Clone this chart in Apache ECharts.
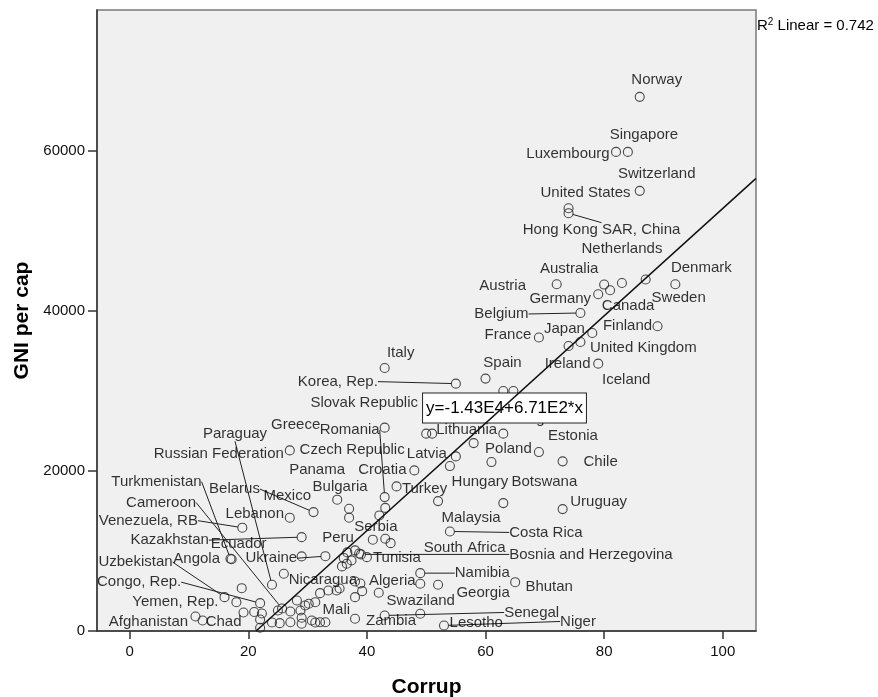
<!DOCTYPE html>
<html>
<head>
<meta charset="utf-8">
<script src="https://cdn.jsdelivr.net/npm/echarts@6.0.0/dist/echarts.min.js"></script>
<style>
  html, body { margin: 0; padding: 0; background: #ffffff; }
  #chart { width: 878px; height: 697px; }
</style>
</head>
<body>
<div id="chart"></div>
<script>
// Corruption score vs. GNI per capita, labelled countries
const countries = [
  'Norway', 'Singapore', 'Luxembourg', 'Switzerland', 'United States', 'Hong Kong SAR, China',
  'Netherlands', 'Australia', 'Denmark', 'Austria', 'Germany', 'Canada', 'Sweden', 'Belgium',
  'France', 'Japan', 'Finland', 'United Kingdom', 'Ireland', 'Iceland', 'Spain', 'Italy',
  'Korea, Rep.', 'Portugal', 'Slovak Republic', 'Czech Republic', 'Greece', 'Lithuania',
  'Estonia', 'Latvia', 'Poland', 'Chile', 'Hungary', 'Croatia', 'Turkey', 'Russian Federation',
  'Romania', 'Malaysia', 'Botswana', 'Uruguay', 'Mexico', 'Bulgaria', 'Panama', 'Belarus',
  'Lebanon', 'Serbia', 'Costa Rica', 'Venezuela, RB', 'Kazakhstan', 'South Africa', 'Peru',
  'Bosnia and Herzegovina', 'Tunisia', 'Ukraine', 'Ecuador', 'Turkmenistan', 'Angola',
  'Nicaragua', 'Paraguay', 'Namibia', 'Algeria', 'Georgia', 'Bhutan', 'Swaziland',
  'Uzbekistan', 'Yemen, Rep.', 'Congo, Rep.', 'Cameroon', 'Afghanistan', 'Chad', 'Senegal',
  'Lesotho', 'Niger', 'Zambia', 'Mali'
];
const corrup = [
  86, 84, 82, 86, 74, 74,
  83, 80, 92, 72, 79, 81, 87, 76,
  69, 76, 89, 78, 74, 79, 60, 43,
  55, 63, 50, 51, 43, 58,
  69, 55, 61, 73, 54, 48, 45, 27,
  43, 52, 63, 73, 35, 37, 37, 31,
  27, 41, 54, 19, 29, 44, 38,
  39, 40, 33, 29, 17, 17.2,
  26, 24, 49, 49, 52, 65, 42,
  16, 18, 22, 25.7, 11.1, 12.3, 43,
  49, 53, 38, 33
];
const gniPerCap = [
  66750, 59870, 59870, 55000, 52830, 52210,
  43490, 43290, 43330, 43330, 42080, 42580, 43920, 39740,
  36670, 36110, 38080, 37240, 35610, 33410, 31540, 32860,
  30910, 24660, 24660, 24660, 25410, 23480,
  22360, 21820, 21110, 21200, 20610, 20070, 18070, 22570,
  16730, 16230, 15980, 15230, 16410, 15280, 14160, 14860,
  14160, 11410, 12440, 12910, 11730, 10980, 10070,
  9570, 9230, 9350, 9320, 9030, 8970,
  7150, 5780, 7230, 5900, 5780, 6100, 4780,
  4230, 3600, 3480, 2810, 1810, 1310, 1940,
  2150, 690, 1530, 1100
];

// Countries drawn without a name tag
const otherCorrup = [
  63.0, 64.7, 43.1, 42.1, 43.1, 36.7, 38.7, 36.1, 36.6, 37.4, 35.8,
  38.0, 39.2, 38.0, 34.9, 35.4, 33.5, 32.1, 30.2, 31.3, 28.2,
  28.8, 27.1, 25.0, 19.2, 21.0, 22.3, 18.9, 22.0, 22.0,
  24.0, 25.3, 27.1, 29.0, 29.0, 30.7, 31.3, 32.1, 38.9, 29.6
];
const otherGni = [
  29990, 29990, 15380, 14440, 11530, 9820, 9690, 9130, 8400, 8820, 8070,
  6190, 4980, 4230, 5060, 5310, 5060, 4730, 3400, 3600, 3810,
  2560, 2440, 2560, 2310, 2380, 2190, 5350, 1440, 400,
  1060, 980, 1100, 1650, 900, 1310, 1060, 1100, 5940, 3190
];

// Axis ticks
const corrupTicks = [0, 20, 40, 60, 80, 100];
const gniTicks = [0, 20000, 40000, 60000];

// Linear fit
const fitIntercept = -1.43e4;
const fitSlope = 6.71e2;
const rSquared = 0.742;

// Where each name tag sits, relative to its point (px)
const labelOffset = {
  'Norway': [17, -17], 'Singapore': [16, -17], 'Luxembourg': [-48, 2], 'Switzerland': [17, -17],
  'United States': [17, -15], 'Hong Kong SAR, China': [33, 17], 'Netherlands': [0, -34],
  'Australia': [-35, -16], 'Denmark': [26, -16], 'Austria': [-54, 2], 'Germany': [-38, 5],
  'Canada': [18, 16], 'Sweden': [33, 18], 'Belgium': [-79, 1], 'France': [-31, -3],
  'Japan': [-16, -13], 'Finland': [-30, 0], 'United Kingdom': [51, 15], 'Ireland': [-1, 18],
  'Iceland': [28, 16], 'Spain': [17, -16], 'Italy': [16, -15], 'Korea, Rep.': [-118, -2],
  'Portugal': [25, -15], 'Slovak Republic': [-62, -31], 'Czech Republic': [-80, 16],
  'Greece': [-89, -3], 'Lithuania': [-7, -13], 'Estonia': [34, -16], 'Latvia': [-29, -3],
  'Poland': [17, -13], 'Chile': [38, 1], 'Hungary': [30, 16], 'Croatia': [-32, -1],
  'Turkey': [28, 2], 'Russian Federation': [-71, 3], 'Romania': [-35, -67], 'Malaysia': [33, 17],
  'Botswana': [41, -21], 'Uruguay': [36, -7], 'Mexico': [-50, -4], 'Bulgaria': [-9, -22],
  'Panama': [-32, -48], 'Belarus': [-79, -23], 'Lebanon': [-35, -4], 'Serbia': [3, -13],
  'Costa Rica': [96, 1], 'Venezuela, RB': [-94, -7], 'Kazakhstan': [-132, 3],
  'South Africa': [74, 5], 'Peru': [-17, -13], 'Bosnia and Herzegovina': [230, 0],
  'Tunisia': [30, 1], 'Ukraine': [-54, 2], 'Ecuador': [-63, -13], 'Turkmenistan': [-74, -77],
  'Angola': [-35, 0], 'Nicaragua': [39, 6], 'Paraguay': [-37, -151], 'Namibia': [62, 0],
  'Algeria': [-28, -3], 'Georgia': [45, 8], 'Bhutan': [34, 5], 'Swaziland': [42, 8],
  'Uzbekistan': [-89, -35], 'Yemen, Rep.': [-61, 0], 'Congo, Rep.': [-121, -21],
  'Cameroon': [-121, -106], 'Afghanistan': [-47, 5], 'Chad': [21, 1], 'Senegal': [147, -3],
  'Lesotho': [56, 9], 'Niger': [134, -4], 'Zambia': [36, 2], 'Mali': [11, -12]
};
// Name tags joined to their point by a leader line
const leaderLines = [
  'Hong Kong SAR, China', 'Belgium', 'Korea, Rep.', 'Romania', 'Belarus', 'Costa Rica',
  'Venezuela, RB', 'Kazakhstan', 'Bosnia and Herzegovina', 'Ukraine', 'Turkmenistan',
  'Paraguay', 'Namibia', 'Uzbekistan', 'Congo, Rep.', 'Cameroon', 'Senegal', 'Niger'
];

const FONT = "'Liberation Sans', Arial, Helvetica, sans-serif";
const xMin = -5.5, xMax = 105.6, yMin = 0, yMax = 77600;
const fit = x => fitIntercept + fitSlope * x;
const xFitStart = Math.max(xMin, (yMin - fitIntercept) / fitSlope);
const eqAnchorX = 63.2;
const sci = v => v.toExponential(2).toUpperCase().replace('E+', 'E');
const eqText = 'y=' + sci(fitIntercept) + '+' + sci(fitSlope) + '*x';

const pointStyle = { color: 'rgba(0,0,0,0)', borderColor: '#1e1e1e', borderWidth: 1.1 };
const axisColor = '#333333';
const inkColor = '#000000';

const chart = echarts.init(document.getElementById('chart'), null, { renderer: 'canvas' });
chart.setOption({
  animation: false,
  textStyle: { fontFamily: FONT },
  grid: {
    left: 97, right: 122, top: 10, bottom: 66,
    containLabel: false, outerBoundsMode: 'none',
    show: true, backgroundColor: '#f0f0f0', borderColor: '#7a7a7a', borderWidth: 1.5
  },
  xAxis: {
    type: 'value', min: xMin, max: xMax,
    name: 'Corrup', nameLocation: 'middle', nameGap: 46,
    nameTextStyle: { fontFamily: FONT, fontSize: 21, fontWeight: 'bold', color: inkColor },
    axisLine: { show: true, onZero: false, lineStyle: { color: axisColor, width: 1.5 } },
    axisTick: { show: true, length: 8, customValues: corrupTicks, lineStyle: { color: axisColor, width: 1.5 } },
    axisLabel: { customValues: corrupTicks, margin: 13, fontFamily: FONT, fontSize: 15, color: '#111',
      formatter: v => String(v) },
    splitLine: { show: false }
  },
  yAxis: {
    type: 'value', min: yMin, max: yMax,
    name: 'GNI per cap', nameLocation: 'middle', nameGap: 63, nameRotate: 90,
    nameTextStyle: { fontFamily: FONT, fontSize: 21, fontWeight: 'bold', color: inkColor },
    axisLine: { show: true, onZero: false, lineStyle: { color: axisColor, width: 1.5 } },
    axisTick: { show: true, length: 9, customValues: gniTicks, lineStyle: { color: axisColor, width: 1.5 } },
    axisLabel: { customValues: gniTicks, margin: 12, fontFamily: FONT, fontSize: 15, color: '#111',
      formatter: v => String(v) },
    splitLine: { show: false }
  },
  graphic: [{
    type: 'text', left: 757, top: 17,
    style: {
      text: '{r|R}{s|2}{r| Linear = ' + rSquared.toFixed(3) + '}',
      fill: inkColor,
      rich: {
        r: { fontFamily: FONT, fontSize: 15, lineHeight: 18, fill: inkColor },
        s: { fontFamily: FONT, fontSize: 10, lineHeight: 10, verticalAlign: 'top', fill: inkColor }
      }
    }
  }],
  series: [
    {
      type: 'scatter', z: 2,
      symbol: 'circle', symbolSize: 9,
      itemStyle: pointStyle,
      emphasis: { disabled: true },
      data: otherCorrup.map((x, i) => [x, otherGni[i]])
    },
    {
      type: 'scatter', z: 3,
      symbol: 'circle', symbolSize: 9,
      itemStyle: pointStyle,
      emphasis: { disabled: true },
      label: {
        show: true, position: 'inside', formatter: p => p.name,
        fontFamily: FONT, fontSize: 15, color: inkColor,
        textBorderWidth: 0, textBorderColor: 'transparent'
      },
      labelLine: { show: false, length2: 0, smooth: false, lineStyle: { color: '#222', width: 1 } },
      labelLayout: p => {
        const o = labelOffset[countries[p.dataIndex]];
        return o ? { dx: o[0], dy: o[1] } : {};
      },
      data: countries.map((c, i) => ({
        name: c,
        value: [corrup[i], gniPerCap[i]],
        labelLine: { show: leaderLines.indexOf(c) >= 0 }
      }))
    },
    {
      type: 'line', z: 5, silent: true,
      symbol: 'none',
      lineStyle: { color: '#111', width: 1.5 },
      data: [[xFitStart, fit(xFitStart)], [xMax, fit(xMax)]],
      markPoint: {
        symbol: 'circle', symbolSize: 1, silent: true,
        itemStyle: { color: 'rgba(0,0,0,0)' },
        label: {
          show: true, position: 'inside', formatter: eqText, offset: [0, 2],
          fontFamily: FONT, fontSize: 17, color: inkColor,
          backgroundColor: '#ffffff', borderColor: '#222', borderWidth: 1,
          padding: [7, 3, 5, 3]
        },
        data: [{ coord: [eqAnchorX, fit(eqAnchorX)] }]
      }
    }
  ]
});
</script>
</body>
</html>
